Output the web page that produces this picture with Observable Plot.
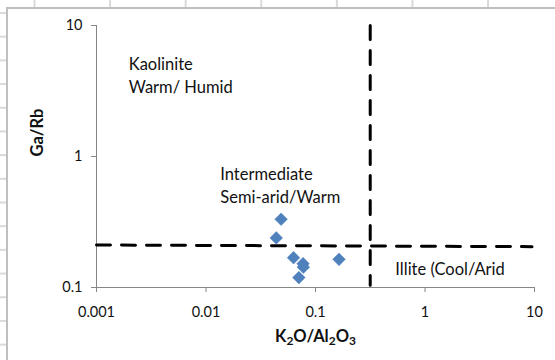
<!DOCTYPE html>
<html>
<head>
<meta charset="utf-8">
<script src="https://cdn.jsdelivr.net/npm/d3@7"></script>
<script src="https://cdn.jsdelivr.net/npm/@observablehq/plot@0.6"></script>
<style>
  html, body { margin: 0; padding: 0; background: #fff; }
  #wrap { position: relative; width: 555px; height: 360px; overflow: hidden; font-family: Lato, "Open Sans", sans-serif; }
  #chart { position: absolute; left: 0; top: 0; }
  .border-left { position: absolute; left: 6px; top: 7px; width: 2px; height: 353px; background: #bfbfbf; z-index: 2; }
  .border-top { position: absolute; left: 6px; top: 7px; width: 549px; height: 2px; background: #bfbfbf; z-index: 2; }
  .ticks-top { position: absolute; left: 0; top: 0; width: 555px; height: 7px; z-index: 1;
    background-image: linear-gradient(to right, #dadada 0, #dadada 1.5px, transparent 1.5px);
    background-size: 75.6px 7px; background-position: 33.5px 0; background-repeat: repeat-x; }
  .ticks-left { position: absolute; left: 0; top: 9px; width: 6px; height: 351px; z-index: 1;
    background-image: linear-gradient(to bottom, #dadada 0, #dadada 1.5px, transparent 1.5px);
    background-size: 6px 23.7px; background-position: 0 3px; background-repeat: repeat-y; }
</style>
</head>
<body>
<div id="wrap">
  <div class="ticks-top"></div>
  <div class="ticks-left"></div>
  <div class="border-left"></div>
  <div class="border-top"></div>
  <div id="chart"></div>
</div>
<script>
// Data
const k2oAl2o3 = [0.0485, 0.0438, 0.063, 0.077, 0.0775, 0.0705, 0.164];
const gaRb     = [0.332, 0.239, 0.169, 0.152, 0.143, 0.119, 0.164];

const xTicks = [0.001, 0.01, 0.1, 1, 10];
const xTickLabels = ["0.001", "0.01", "0.1", "1", "10"];
const yTicks = [0.1, 1, 10];
const yTickLabels = ["0.1", "1", "10"];

// Boundary lines (dashed)
const vLineX = [0.316, 0.316];
const vLineY = [10, 0.104];
const hLineX = [0.001, 9.5];
const hLineY = [0.211, 0.205];

// Field annotations
const fieldLabels = ["Kaolinite\nWarm/ Humid", "Intermediate\nSemi-arid/Warm", "Illite (Cool/Arid"];
const fieldX = [0.00197, 0.0135, 0.536];
const fieldY = [3.05, 0.4395, 0.124];

const xTitle = "K2O/Al2O3";
const yTitle = "Ga/Rb";

const points = k2oAl2o3.map((x, i) => ({x, y: gaRb[i]}));
const vLine = vLineX.map((x, i) => ({x, y: vLineY[i]}));
const hLine = hLineX.map((x, i) => ({x, y: hLineY[i]}));
const fields = fieldLabels.map((t, i) => ({t, x: fieldX[i], y: fieldY[i]}));

const axisColor = "#868686";
const textColor = "#111";
const font = "Lato, 'Open Sans', sans-serif";

const fmtX = d => { const i = xTicks.findIndex(v => Math.abs(v - d) < v * 1e-6); return i < 0 ? "" : xTickLabels[i]; };
const fmtY = d => { const i = yTicks.findIndex(v => Math.abs(v - d) < v * 1e-6); return i < 0 ? "" : yTickLabels[i]; };

const chart = Plot.plot({
  width: 555,
  height: 360,
  marginLeft: 96,
  marginRight: 21,
  marginTop: 25,
  marginBottom: 73,
  style: {background: "transparent", fontFamily: font, color: textColor, overflow: "visible"},
  x: {type: "log", domain: [0.001, 10]},
  y: {type: "log", domain: [0.1, 10]},
  marks: [
    Plot.ruleX([0.001], {stroke: axisColor, strokeWidth: 1}),
    Plot.ruleY([0.1], {stroke: axisColor, strokeWidth: 1}),
    Plot.axisX({ticks: xTicks, tickFormat: fmtX, tickSize: 5, tickPadding: 14,
      stroke: axisColor, fill: textColor, fontSize: 14.5, label: null}),
    Plot.axisY({ticks: yTicks, tickFormat: fmtY, tickSize: 5, tickPadding: 9,
      stroke: axisColor, fill: textColor, fontSize: 14.5, label: null}),
    Plot.line(hLine, {x: "x", y: "y", stroke: "#000", strokeWidth: 3, strokeDasharray: "14,11"}),
    Plot.line(vLine, {x: "x", y: "y", stroke: "#000", strokeWidth: 3, strokeDasharray: "14,11"}),
    Plot.dot(points, {x: "x", y: "y", symbol: "diamond2", r: 5.7, fill: "#4F81BD", stroke: "#4a7ebb", strokeWidth: 0.5}),
    Plot.text(fields, {x: "x", y: "y", text: "t", textAnchor: "start", lineAnchor: "bottom",
      lineHeight: 1.4, fontSize: 16.5, fill: textColor}),
    Plot.text([xTitle], {frameAnchor: "bottom", dy: 54, fontSize: 16.5, fontWeight: "bold", fill: textColor}),
    Plot.text([yTitle], {frameAnchor: "left", rotate: -90, dx: -59, fontSize: 16.5, fontWeight: "bold", fill: textColor})
  ]
});

document.getElementById("chart").appendChild(chart);

// Render subscripts in the x-axis title
d3.select(chart).selectAll("text").each(function() {
  if (this.textContent === xTitle) {
    const t = d3.select(this);
    t.text("");
    const parts = [["K", 0], ["2", 1], ["O/Al", 0], ["2", 1], ["O", 0], ["3", 1]];
    let prevSub = false;
    for (const [s, sub] of parts) {
      const ts = t.append("tspan").text(s);
      if (sub) { ts.attr("font-size", "12px").attr("dy", prevSub ? 0 : 3); }
      else if (prevSub) { ts.attr("dy", -3); }
      prevSub = !!sub;
    }
  }
});
</script>
</body>
</html>
